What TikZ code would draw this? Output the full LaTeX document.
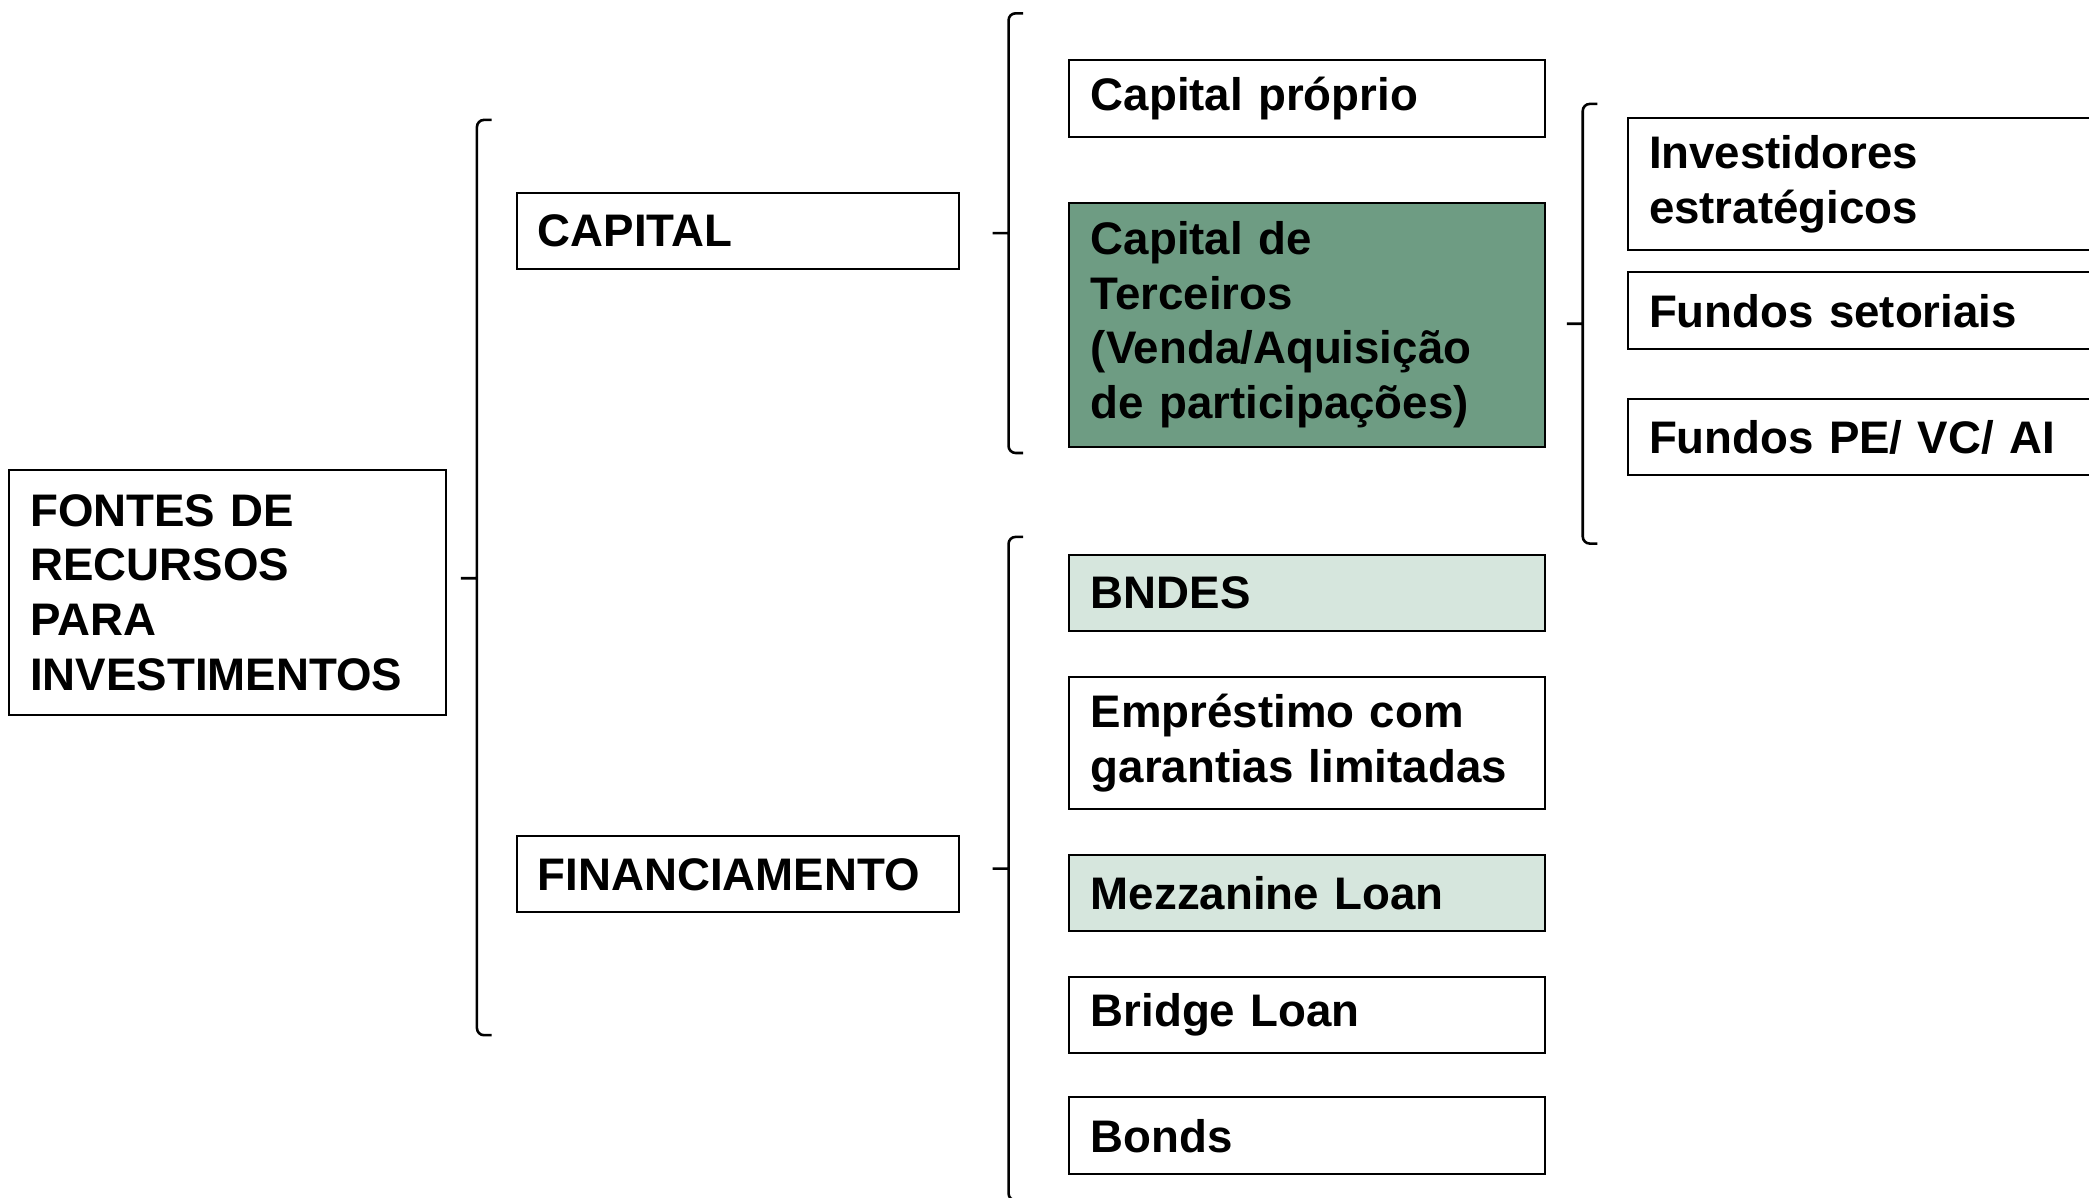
\documentclass[tikz,border=0pt]{standalone}
\usepackage{fontspec}
\setmainfont{Liberation Sans}
\usepackage{tikz}
\usetikzlibrary{positioning}
\definecolor{verdeescuro}{RGB}{110,156,131}
\definecolor{verdeclaro}{RGB}{214,230,221}

\begin{document}
\begin{tikzpicture}[
    x = 0.02cm, y = -0.02cm,
    caixa/.style = {rectangle, draw, line width = 0.85pt, inner xsep = 0.32cm, inner ysep = 0pt, align = left, font = \bfseries\fontsize{19.5}{23.3}\selectfont},
    raiz/.style = {caixa, text width = 5.92cm, minimum height = 3.68cm},
    nivel/.style = {caixa, text width = 6.0cm, minimum height = 1.14cm},
    fonte/.style = {caixa, text width = 6.5cm, minimum height = #1},
    fonte/.default = 1.14cm,
    investidor/.style = {caixa, text width = 7.36cm, minimum height = #1},
    investidor/.default = 1.14cm,
    chave/.style = {line width = 1.1pt, rounded corners = 3pt},
    ]

    \useasboundingbox (0,0) rectangle (1568,899);
    \clip (0,0) rectangle (1568,899);

    % root and first split
    \node [raiz, anchor = north west] (fontes) at (6,352) {FONTES DE\\RECURSOS\\PARA\\INVESTIMENTOS};
    \node [nivel, anchor = north west] (capital) at (387,144) {CAPITAL};
    \node [nivel, anchor = north west] (financiamento) at (387,627) {FINANCIAMENTO};

    % capital
    \node [fonte = 1.16cm, anchor = north west] (proprio) at (802,44) {Capital próprio};
    \node [fonte = 3.66cm, fill = verdeescuro] (terceiros) [below = 0.96cm of proprio] {Capital de\\Terceiros\\(Venda/Aquisição\\de participações)};

    % financiamento
    \node [fonte, fill = verdeclaro] (bndes) [below = 1.6cm of terceiros] {BNDES};
    \node [fonte = 1.98cm] (emprestimo) [below = 0.66cm of bndes] {Empréstimo com\\garantias limitadas};
    \node [fonte, fill = verdeclaro] (mezzanine) [below = 0.66cm of emprestimo] {Mezzanine Loan};
    \node [fonte] (bridge) [below = 0.66cm of mezzanine] {Bridge Loan};
    \node [fonte = 1.16cm] (bonds) [below = 0.64cm of bridge] {Bonds};

    % capital de terceiros
    \node [investidor = 1.98cm, anchor = north west] (estrategicos) at (1221,88) {Investidores\\estratégicos};
    \node [investidor = 1.16cm] (setoriais) [below = 0.3cm of estrategicos] {Fundos setoriais};
    \node [investidor] (pe) [below = 0.72cm of setoriais] {Fundos PE/ VC/ AI};

    % brackets
    \foreach \x/\topo/\base/\meio in {358/90/777/434, 757/10/340/175, 757/403/901/652, 1188/78/408/243}
        \draw [chave] (\x+11,\topo) -- (\x,\topo) -- (\x,\base) -- (\x+11,\base) (\x,\meio) -- (\x-12,\meio);
\end{tikzpicture}
\end{document}
